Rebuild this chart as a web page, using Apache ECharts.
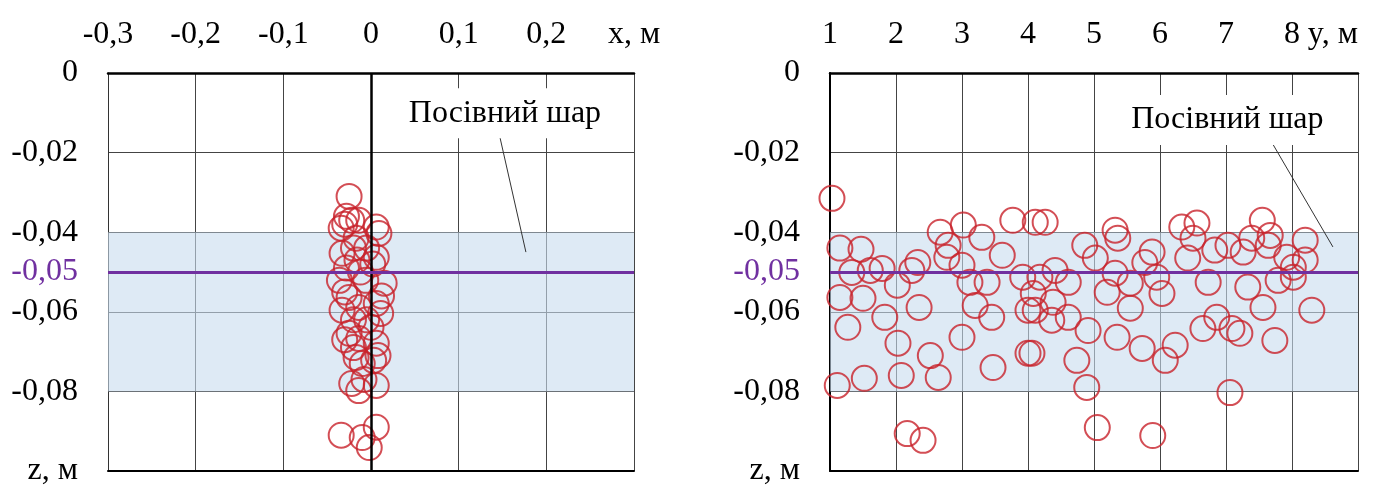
<!DOCTYPE html>
<html>
<head>
<meta charset="utf-8">
<script src="https://cdn.jsdelivr.net/npm/echarts@6/dist/echarts.min.js"></script>
<style>
  html, body { margin: 0; padding: 0; background: #fff; }
  #chart { width: 1374px; height: 487px; }
</style>
</head>
<body>
<div id="chart"></div>
<script>
// tick labels
const xTicksLeft = ["-0,3", "-0,2", "-0,1", "0", "0,1", "0,2", "x, м"];
const xTicksRight = ["1", "2", "3", "4", "5", "6", "7", "8", "y, м"];
const zTicks = ["z, м", "-0,08", "-0,06", "-0,04", "-0,02", "0"];

// sowing layer
const bandTop = -0.04;
const bandBottom = -0.08;
const sowingDepth = -0.05;
const layerName = "Посівний шар";

// seeds, front view: [x, z]
const leftPoints = [
  [-0.025, -0.031], [-0.028, -0.036], [-0.034, -0.039], [-0.030, -0.038], [-0.022, -0.037],
  [-0.014, -0.037], [0.006, -0.0387], [0.009, -0.0403], [-0.017, -0.0415], [-0.020, -0.044],
  [0.006, -0.0463], [-0.016, -0.047], [-0.033, -0.0453], [0.002, -0.048], [-0.012, -0.050],
  [0.015, -0.0528], [-0.006, -0.0521], [-0.036, -0.0521], [-0.030, -0.055], [-0.025, -0.0564],
  [-0.014, -0.0589], [0.006, -0.0579], [-0.033, -0.0596], [0.011, -0.0604], [-0.005, -0.062],
  [-0.025, -0.0654], [-0.014, -0.0667], [0.000, -0.0639], [0.006, -0.0679], [-0.020, -0.069],
  [-0.017, -0.0715], [-0.010, -0.073], [0.003, -0.0722], [-0.022, -0.078], [0.006, -0.0785],
  [-0.014, -0.0798], [0.006, -0.089], [-0.034, -0.091], [-0.010, -0.0916], [-0.002, -0.0941],
  [-0.005, -0.044], [-0.028, -0.049], [0.012, -0.056], [-0.020, -0.062], [0.008, -0.071],
  [-0.030, -0.067], [-0.008, -0.077]
];

// seeds, side view: [y, z]
const rightPoints = [
  [1.03, -0.0315], [1.15, -0.0440], [1.47, -0.0443], [1.33, -0.0501], [1.61, -0.0496],
  [1.79, -0.0491], [1.15, -0.0564], [1.50, -0.0566], [2.02, -0.0533], [1.83, -0.0614],
  [1.27, -0.0639], [2.03, -0.0679], [1.11, -0.0785], [1.52, -0.0767], [2.08, -0.0760],
  [2.33, -0.0476], [2.24, -0.0496], [2.35, -0.0589], [2.52, -0.0710], [2.64, -0.0765],
  [2.17, -0.0906], [2.41, -0.0923], [2.67, -0.0400], [3.02, -0.0382], [3.30, -0.0413],
  [2.79, -0.0433], [2.77, -0.0463], [3.00, -0.0483], [3.12, -0.0526], [3.38, -0.0526],
  [3.61, -0.0458], [3.20, -0.0584], [3.45, -0.0614], [3.00, -0.0664], [3.47, -0.0740],
  [3.77, -0.0370], [4.11, -0.0375], [3.92, -0.0513], [4.00, -0.0596], [4.00, -0.0704],
  [4.08, -0.0554], [4.26, -0.0375], [4.86, -0.0433], [5.02, -0.0465], [4.41, -0.0496],
  [4.18, -0.0513], [4.61, -0.0526], [4.38, -0.0576], [4.11, -0.0596], [4.36, -0.0621],
  [4.61, -0.0614], [4.91, -0.0647], [4.06, -0.0704], [4.74, -0.0722], [4.89, -0.0790],
  [5.05, -0.0891], [5.32, -0.0395], [5.36, -0.0415], [5.32, -0.0503], [5.20, -0.0551],
  [5.55, -0.0528], [5.55, -0.0591], [5.35, -0.0664], [5.73, -0.0692], [5.88, -0.0450],
  [5.77, -0.0476], [5.95, -0.0513], [6.03, -0.0554], [6.23, -0.0684], [6.08, -0.0722],
  [5.89, -0.0911], [6.33, -0.0387], [6.56, -0.0377], [6.50, -0.0415], [6.42, -0.0465],
  [6.73, -0.0526], [6.83, -0.0445], [7.03, -0.0433], [6.86, -0.0614], [6.65, -0.0642],
  [7.09, -0.0642], [7.21, -0.0654], [7.06, -0.0803], [7.26, -0.0450], [7.39, -0.0415],
  [7.55, -0.0370], [7.67, -0.0408], [7.64, -0.0433], [7.33, -0.0538], [7.56, -0.0589],
  [7.74, -0.0672], [7.79, -0.0521], [7.92, -0.0463], [8.02, -0.0488], [8.02, -0.0513],
  [8.20, -0.0420], [8.20, -0.0470], [8.30, -0.0596]
];

// label anchors and leader lines (data coords)
const leftLabelAt = [0.1528, -0.0101];
const leftLeader = [[0.146, -0.0151], [0.1767, -0.045]];
const rightLabelAt = [7.02, -0.0118];
const rightLeader = [[7.70, -0.0176], [8.62, -0.0437]];

const FONT = "Liberation Serif";
const chart = echarts.init(document.getElementById("chart"));

function topAxis(gridIndex, min, max, interval, ticks) {
  return {
    type: "value", gridIndex: gridIndex, position: "top",
    min: min, max: max, interval: interval,
    axisLine: { show: true, lineStyle: { color: "#000", width: 2.5 } },
    axisTick: { show: false },
    splitLine: { show: true, lineStyle: { color: "#444", width: 1 } },
    axisLabel: {
      margin: 22, fontSize: 32, fontFamily: FONT, color: "#000",
      alignMaxLabel: gridIndex === 1 ? "right" : "center",
      formatter: function (v) { return ticks[Math.round((v - min) / interval)]; }
    }
  };
}
function bottomAxis(gridIndex, min, max) {
  return {
    type: "value", gridIndex: gridIndex, position: "bottom", min: min, max: max,
    axisLine: { show: true, onZero: false, lineStyle: { color: "#000", width: 2 } },
    axisTick: { show: false }, axisLabel: { show: false }, splitLine: { show: false }
  };
}
function zAxis(gridIndex, lineColor, lineWidth) {
  return {
    type: "value", gridIndex: gridIndex, min: -0.1, max: 0, interval: 0.02,
    axisLine: { show: true, onZero: false, lineStyle: { color: lineColor, width: lineWidth } },
    axisTick: { show: false },
    splitLine: { show: true, lineStyle: { color: "#444", width: 1 } },
    axisLabel: {
      margin: 30, fontSize: 32, fontFamily: FONT, color: "#000",
      formatter: function (v) { return zTicks[Math.round((v + 0.1) / 0.02)]; }
    }
  };
}

function seedSeries(axisIdx, points, labelAt, leader, extraLines) {
  return {
    type: "scatter", xAxisIndex: axisIdx, yAxisIndex: axisIdx,
    data: points,
    symbol: "circle", symbolSize: 25,
    itemStyle: { color: "rgba(255,255,255,0)", borderColor: "#c8222a", borderWidth: 2 },
    markArea: {
      silent: true,
      itemStyle: { color: "rgba(200,220,238,0.6)" },
      data: [[{ yAxis: bandTop }, { yAxis: bandBottom }]]
    },
    markLine: {
      silent: true, symbol: "none", animation: false,
      data: extraLines.concat([
        {
          yAxis: sowingDepth,
          lineStyle: { color: "#7030a0", width: 3, type: "solid" },
          label: {
            show: true, position: "start", distance: 30, formatter: "-0,05",
            fontSize: 32, fontFamily: FONT, color: "#7030a0"
          }
        },
        [
          { coord: leader[0], lineStyle: { color: "#333", width: 1, type: "solid" }, label: { show: false } },
          { coord: leader[1] }
        ]
      ])
    },
    markPoint: {
      silent: true, symbol: "circle", symbolSize: 1,
      itemStyle: { color: "rgba(0,0,0,0)" },
      label: {
        show: true, position: "inside", formatter: layerName,
        fontSize: 32, fontFamily: FONT, color: "#000",
        backgroundColor: "#fff", padding: [9, 14]
      },
      data: [{ coord: labelAt }]
    }
  };
}

const option = {
  backgroundColor: "#fff",
  animation: false,
  grid: [
    { left: 108, top: 73, width: 526, height: 398 },
    { left: 830, top: 73, width: 528, height: 398 }
  ],
  xAxis: [
    topAxis(0, -0.3, 0.3, 0.1, xTicksLeft),
    topAxis(1, 1, 9, 1, xTicksRight),
    bottomAxis(0, -0.3, 0.3),
    bottomAxis(1, 1, 9)
  ],
  yAxis: [
    zAxis(0, "#333", 1),
    zAxis(1, "#000", 2)
  ],
  series: [
    seedSeries(0, leftPoints, leftLabelAt, leftLeader, [
      { xAxis: 0, lineStyle: { color: "#000", width: 2.5, type: "solid" }, label: { show: false } }
    ]),
    seedSeries(1, rightPoints, rightLabelAt, rightLeader, [])
  ]
};

chart.setOption(option);
</script>
</body>
</html>
